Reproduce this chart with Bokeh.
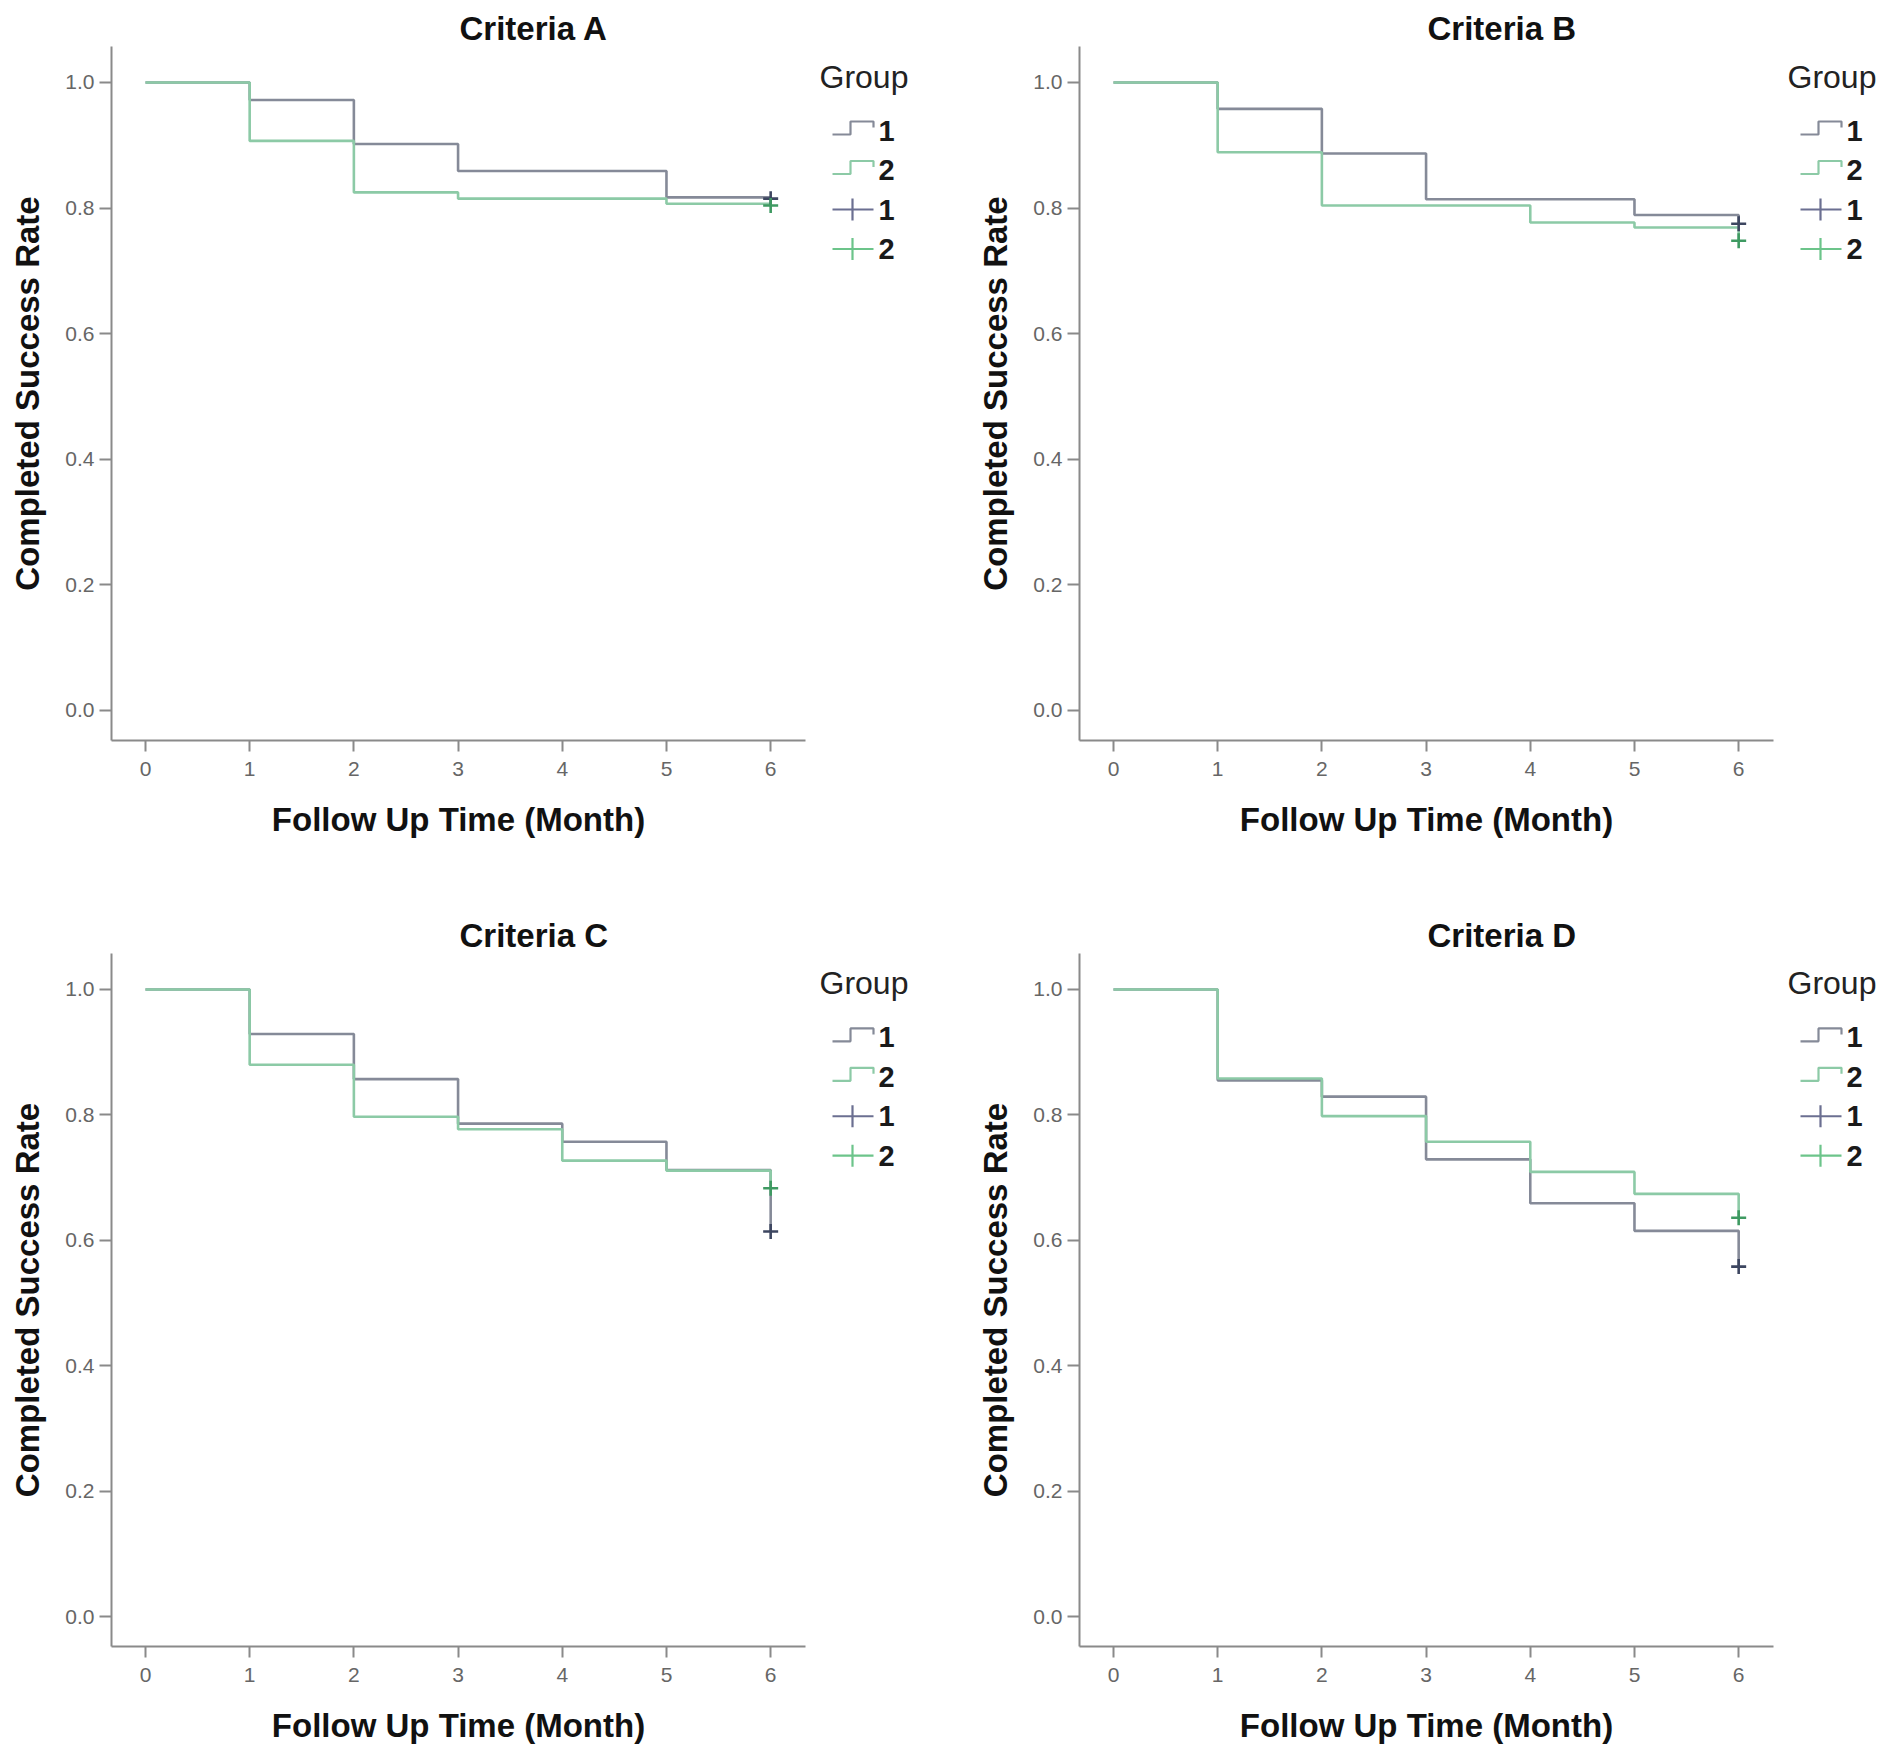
from bokeh.plotting import figure
from bokeh.layouts import column, row
from bokeh.models import Range1d, FixedTicker
from bokeh.core.properties import value
from bokeh.embed import file_html
from bokeh.resources import INLINE

# ---------------- data ----------------
months = [0, 1, 2, 3, 4, 5, 6]
titles = ["Criteria A", "Criteria B", "Criteria C", "Criteria D"]
group_labels = ["1", "2"]
legend_title = "Group"
x_label = "Follow Up Time (Month)"
y_label = "Completed Success Rate"
y_ticks = [0.0, 0.2, 0.4, 0.6, 0.8, 1.0]
y_tick_labels = ["0.0", "0.2", "0.4", "0.6", "0.8", "1.0"]
x_ticks = [0, 1, 2, 3, 4, 5, 6]

# survival level on [0,1),[1,2),...,[5,6) and the final value at month 6
A_g1 = [1.0, 0.972, 0.902, 0.859, 0.859, 0.817, 0.815]
A_g2 = [1.0, 0.907, 0.825, 0.815, 0.815, 0.807, 0.804]
B_g1 = [1.0, 0.958, 0.887, 0.814, 0.814, 0.789, 0.775]
B_g2 = [1.0, 0.889, 0.804, 0.804, 0.777, 0.769, 0.748]
C_g1 = [1.0, 0.929, 0.857, 0.786, 0.757, 0.712, 0.614]
C_g2 = [1.0, 0.880, 0.797, 0.777, 0.727, 0.711, 0.683]
D_g1 = [1.0, 0.855, 0.829, 0.729, 0.659, 0.615, 0.558]
D_g2 = [1.0, 0.858, 0.798, 0.757, 0.709, 0.674, 0.636]

series = [(A_g1, A_g2), (B_g1, B_g2), (C_g1, C_g2), (D_g1, D_g2)]

# ---------------- style ----------------
FONT = "Liberation Sans"
G1_LINE = "#858a98"
G2_LINE = "#8ccaa6"
G1_CENS = "#3d4660"
G2_CENS = "#3f9a62"
G1_LEG_CROSS = "#6b6f91"
G2_LEG_CROSS = "#6cc48a"
AXIS_COL = "#8a8a8a"

PX_PER_MONTH = 104.2
PX_PER_UNIT = 628.0
X_START = -0.326
FRAME_W = 694
FRAME_H = 694
Y_START = -0.0478
Y_END = Y_START + FRAME_H / PX_PER_UNIT
X_END = X_START + FRAME_W / PX_PER_MONTH


def make_panel(idx, border_left, border_top, height):
    g1, g2 = series[idx]
    border_right = 10
    border_bottom = height - border_top - FRAME_H
    width = border_left + FRAME_W + border_right
    p = figure(width=width, height=height, output_backend="svg", toolbar_location=None,
               x_range=Range1d(X_START, X_END), y_range=Range1d(Y_START, Y_END),
               min_border_left=border_left, min_border_right=border_right,
               min_border_top=border_top, min_border_bottom=border_bottom,
               title=titles[idx])
    p.outline_line_color = None
    p.background_fill_color = "white"
    p.border_fill_color = "white"
    p.xgrid.visible = False
    p.ygrid.visible = False

    p.title.text_font = FONT
    p.title.text_font_size = "33px"
    p.title.text_font_style = "bold"
    p.title.text_color = "#111111"
    p.title.align = "left"
    p.title.offset = 348
    p.title.standoff = 0

    for ax in (p.xaxis[0], p.yaxis[0]):
        ax.axis_line_color = AXIS_COL
        ax.axis_line_width = 2
        ax.major_tick_line_color = AXIS_COL
        ax.major_tick_line_width = 2
        ax.minor_tick_line_color = None
        ax.major_tick_in = 0
        ax.major_label_text_font = FONT
        ax.major_label_text_font_size = "21px"
        ax.major_label_text_color = "#666666"
        ax.axis_label_text_font = FONT
        ax.axis_label_text_font_size = "33px"
        ax.axis_label_text_font_style = "bold"
        ax.axis_label_text_color = "#111111"

    xa = p.xaxis[0]
    xa.ticker = FixedTicker(ticks=x_ticks)
    xa.major_tick_out = 11
    xa.major_label_standoff = 10
    xa.axis_label = x_label
    xa.axis_label_standoff = 22

    ya = p.yaxis[0]
    ya.ticker = FixedTicker(ticks=y_ticks)
    ya.major_label_overrides = {t: l for t, l in zip(y_ticks, y_tick_labels)}
    ya.major_tick_out = 12
    ya.major_label_standoff = 5
    ya.axis_label = y_label
    ya.axis_label_standoff = 16

    # Kaplan-Meier style step curves
    p.step(months, g1, mode="after", line_color=G1_LINE, line_width=2.6)
    p.step(months, g2, mode="after", line_color=G2_LINE, line_width=2.6)
    # censor marks at the last month
    p.scatter([months[-1]], [g1[-1]], marker="cross", size=15, line_color=G1_CENS, line_width=2.6)
    p.scatter([months[-1]], [g2[-1]], marker="cross", size=15, line_color=G2_CENS, line_width=2.6)
    return p


def make_legend(width, height, frame_top):
    # pixel-space figure; its frame lines up with the neighbouring plot frame,
    # so the y range runs over the same pixel rows (measured downward from the top)
    q = figure(width=width, height=height, output_backend="svg", toolbar_location=None,
               x_range=Range1d(0, width),
               y_range=Range1d(frame_top + FRAME_H, frame_top),
               x_axis_type=None, y_axis_type=None,
               min_border_left=0, min_border_right=0, min_border_top=frame_top,
               min_border_bottom=height - frame_top - FRAME_H)
    q.outline_line_color = None
    q.xgrid.visible = False
    q.ygrid.visible = False
    q.background_fill_color = "white"
    q.border_fill_color = "white"

    q.text([4], [frame_top + 30], text=[legend_title], text_font=value(FONT),
           text_font_size="32px", text_color="#222222", text_baseline="middle", text_align="left")
    cys = [frame_top + c for c in (84, 123.5, 163, 202.5)]
    labels = [group_labels[0], group_labels[1], group_labels[0], group_labels[1]]
    q.text([63] * 4, cys, text=labels, text_font=value(FONT),
           text_font_size="29px", text_font_style="bold", text_color="#1a1a1a",
           text_baseline="middle", text_align="left")
    # step icons
    for cy, col in ((cys[0], G1_LINE), (cys[1], G2_LINE)):
        q.line([17, 35, 35, 58, 58], [cy + 4, cy + 4, cy - 9, cy - 9, cy - 3],
               line_color=col, line_width=2.2)
    # cross icons
    for cy, col in ((cys[2], G1_LEG_CROSS), (cys[3], G2_LEG_CROSS)):
        q.multi_line([[17, 58], [37, 37]], [[cy, cy], [cy - 11, cy + 11]],
                     line_color=col, line_width=2.2)
    return q


ROW1_H, ROW2_H = 914, 836
LEG_B_W = 1889 - 815 - 159 - 809
pA = make_panel(0, 111, 46, ROW1_H)
lA = make_legend(159, ROW1_H, 46)
pB = make_panel(1, 105, 46, ROW1_H)
lB = make_legend(LEG_B_W, ROW1_H, 46)
pC = make_panel(2, 111, 38, ROW2_H)
lC = make_legend(159, ROW2_H, 38)
pD = make_panel(3, 105, 38, ROW2_H)
lD = make_legend(LEG_B_W, ROW2_H, 38)

layout = column(row(pA, lA, pB, lB), row(pC, lC, pD, lD))
open("out.html", "w").write(file_html(layout, INLINE))
